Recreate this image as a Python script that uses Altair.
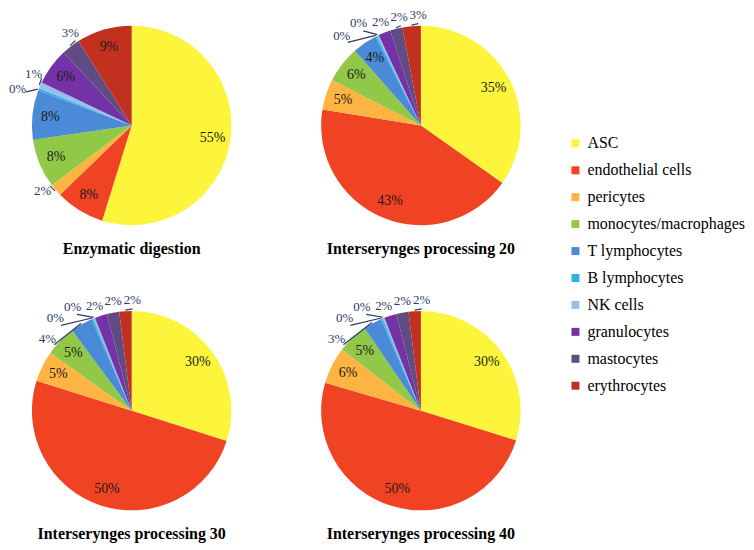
import altair as alt
import pandas as pd
import math

cell_types = ["ASC", "endothelial cells", "pericytes", "monocytes/macrophages",
              "T lymphocytes", "B lymphocytes", "NK cells", "granulocytes",
              "mastocytes", "erythrocytes"]
colors = ["#FCF53C", "#EF4324", "#FDB443", "#92C848", "#4B8AD6",
          "#2DB2EC", "#9BBDE6", "#7332A6", "#5E4C82", "#C2311F"]
panels = ["Enzymatic digestion", "Interserynges processing 20",
          "Interserynges processing 30", "Interserynges processing 40"]
enzymatic = [55, 8, 2, 8, 8, 0.4, 1, 6, 3, 9]
ip20 = [35, 43, 5, 6, 4, 0.3, 0.3, 2, 2, 3]
ip30 = [30, 50, 5, 5, 3.6, 0.3, 0.3, 2, 2, 2]
ip40 = [30, 50, 6, 5, 3, 0.3, 0.3, 2, 2, 2]

rows = []
for panel, vals in zip(panels, [enzymatic, ip20, ip30, ip40]):
    for i, (c, v) in enumerate(zip(cell_types, vals)):
        rows.append({"panel": panel, "cell": c, "idx": i, "value": v})
df = pd.DataFrame(rows)

SERIF = "Liberation Serif"
R = 100
half = 102
xs = alt.Scale(domain=[-half, half], nice=False, zero=False)
ys = alt.Scale(domain=[-half, half], nice=False, zero=False)

base = alt.Chart()

arcs = base.mark_arc(outerRadius=R).encode(
    theta=alt.Theta("v0:Q", stack=None,
                    scale=alt.Scale(domain=[0, 1], range=[0, 2 * math.pi])),
    theta2="v1:Q",
    color=alt.Color("cell:N", scale=alt.Scale(domain=cell_types, range=colors),
                    title=None,
                    legend=alt.Legend(orient="none", legendX=539, legendY=112,
                                      symbolType="square", symbolSize=64,
                                      symbolStrokeWidth=0,
                                      labelFont=SERIF,
                                      labelFontSize=16, labelColor="black",
                                      rowPadding=11, labelOffset=4,
                                      labelLimit=300)),
    order=alt.Order("idx:Q"),
)

inside = base.mark_text(font=SERIF, fontSize=14, color="#1a1a1a").encode(
    x=alt.X("lx:Q", scale=xs, axis=None),
    y=alt.Y("ly:Q", scale=ys, axis=None),
    text="lab:N",
).transform_filter("!datum.outside")

outside = base.mark_text(font=SERIF, fontSize=13, color="#2E3A63").encode(
    x=alt.X("lx:Q", scale=xs, axis=None),
    y=alt.Y("ly:Q", scale=ys, axis=None),
    text="lab:N",
).transform_filter("datum.outside")

leaders = base.mark_rule(color="#2E3A63", strokeWidth=1.2).encode(
    x=alt.X("ex:Q", scale=xs, axis=None),
    y=alt.Y("ey:Q", scale=ys, axis=None),
    x2="qx:Q",
    y2="qy:Q",
).transform_filter("datum.leader")

layered = alt.layer(arcs, leaders, inside, outside, data=df).transform_stack(
    stack="value", groupby=["panel"], as_=["v0", "v1"], offset="normalize",
    sort=[alt.SortField("idx", order="ascending")],
).transform_calculate(
    mid="PI * (datum.v0 + datum.v1)",
    outside="datum.value < 3.8",
    lab="format(round(datum.value), 'd') + '%'",
).transform_window(
    k="row_number()", groupby=["panel", "outside"],
    sort=[alt.SortField("idx", order="descending")],
).transform_calculate(
    midDeg="datum.mid * 180 / PI > 180 ? datum.mid * 180 / PI - 360 : datum.mid * 180 / PI",
).transform_calculate(
    term="datum.midDeg + 10 * datum.k",
).transform_window(
    cm="min(term)", groupby=["panel", "outside"],
    sort=[alt.SortField("k", order="ascending")],
    frame=[None, 0],
).transform_calculate(
    labDeg="datum.outside ? datum.cm - 10 * datum.k + 4 : datum.midDeg",
    labR="datum.outside ? (datum.value < 0.5 ? 120 : 111) : 82",
).transform_calculate(
    lx="datum.labR * sin(datum.labDeg * PI / 180)",
    ly="datum.labR * cos(datum.labDeg * PI / 180)",
    qx="(datum.labR - 9) * sin(datum.labDeg * PI / 180)",
    qy="(datum.labR - 9) * cos(datum.labDeg * PI / 180)",
    ex="101 * sin(datum.mid)",
    ey="101 * cos(datum.mid)",
    leader="datum.outside && (datum.value < 0.5 || abs(datum.labDeg - datum.midDeg) > 2.5)",
).properties(width=2 * half, height=2 * half)

chart = layered.facet(
    facet=alt.Facet("panel:N", sort=panels, title=None,
                    header=alt.Header(labelOrient="bottom",
                                      labelFont=SERIF,
                                      labelFontSize=16, labelFontWeight="bold",
                                      labelColor="black", labelPadding=14)),
    columns=2,
    spacing={"row": 82, "column": 86},
    bounds="flush",
).properties(
    padding={"left": 0, "top": 0, "right": 0, "bottom": 0},
    background="white",
).configure(font=SERIF).configure_legend(labelFont=SERIF).configure_view(stroke=None)

chart.save("out.html", embed_options={"renderer": "svg", "actions": False})
